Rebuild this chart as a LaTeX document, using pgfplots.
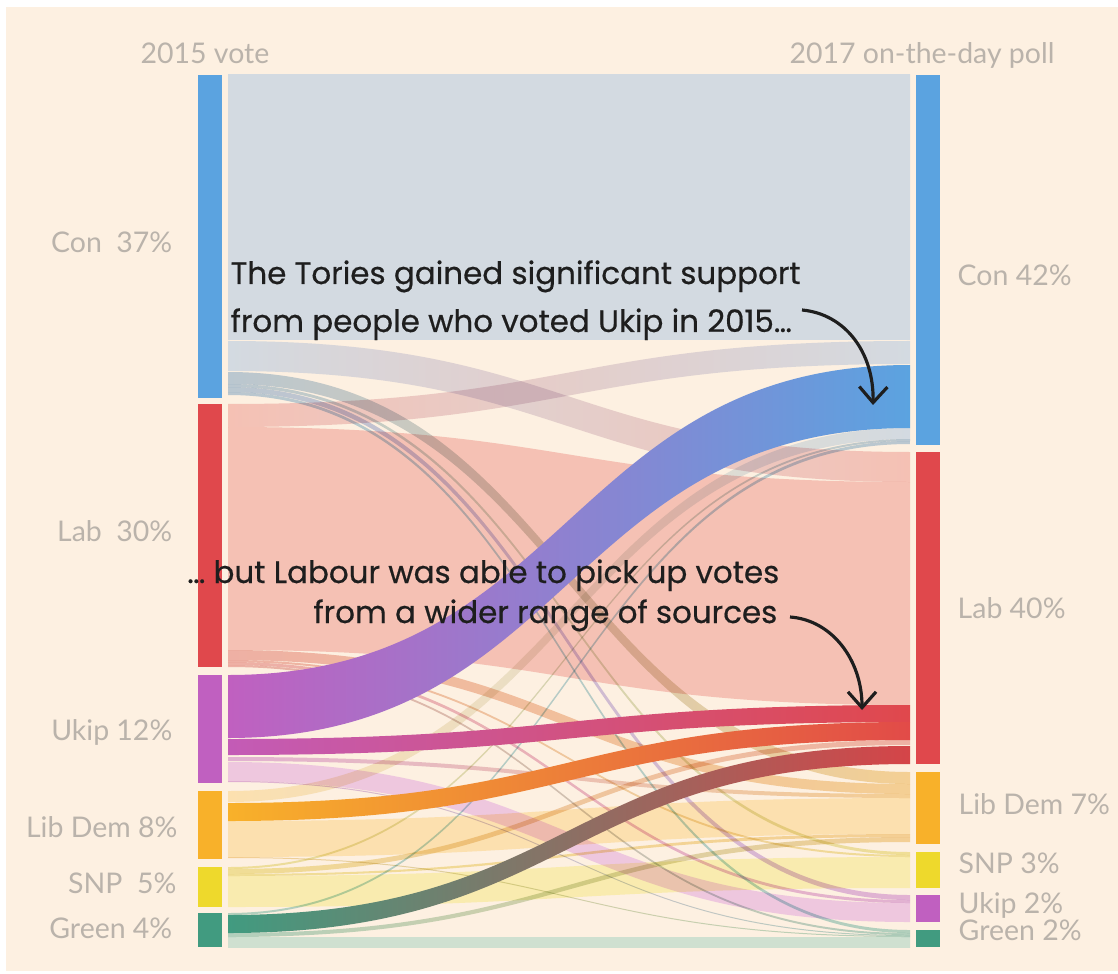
\documentclass[border=0pt]{standalone}
\usepackage{fontspec}
\usepackage{pgfplots}
\pgfplotsset{compat=1.18}
\usetikzlibrary{arrows.meta}
\setmainfont{Lato}
\newfontfamily\annfont{Poppins}[FakeBold=0.5]

\definecolor{cream}{HTML}{FDF0E1}
\definecolor{labgrey}{HTML}{BAB3AB}
\definecolor{ink}{HTML}{1E1E1E}
% party colours (bars)
\definecolor{cCon}{HTML}{5BA3E0}
\definecolor{cLab}{HTML}{E0484C}
\definecolor{cUkip}{HTML}{C060C0}
\definecolor{cLD}{HTML}{F8B12A}
\definecolor{cSNP}{HTML}{EED92C}
\definecolor{cGrn}{HTML}{419B80}
% faded flow colours (multiplied onto cream)
\definecolor{fCon}{HTML}{D5E8FF}
\definecolor{fLab}{HTML}{F7CECD}
\definecolor{fUkip}{HTML}{F0D4FC}
\definecolor{fLD}{HTML}{FEEEC7}
\definecolor{fSNP}{HTML}{FBFAC7}
\definecolor{fGrn}{HTML}{D1EEEC}
% thin flows a little stronger
\definecolor{sCon}{HTML}{BCD4EC}
\definecolor{sLab}{HTML}{F0BCBA}
\definecolor{sUkip}{HTML}{E4BEEE}
\definecolor{sLD}{HTML}{F6DCA8}
\definecolor{sSNP}{HTML}{F2ECAA}
\definecolor{sGrn}{HTML}{B4DCD6}

\tikzset{
  lab/.style={font=\fontsize{8.1}{10}\selectfont, text=labgrey, inner sep=0pt},
  ann/.style={font=\annfont\fontsize{8.8}{11}\selectfont, text=ink, inner sep=0pt},
}

% flow: colour at 2015 end, colour at 2017 end, left interval (x=228), right interval (x=910)
\newcommand{\flow}[6]{\pgfplotsextra{%
  \shade[left color=#1, right color=#2, blend mode=multiply] (axis cs:228,#3) .. controls (axis cs:569,#3) and (axis cs:569,#5) .. (axis cs:910,#5)
    -- (axis cs:910,#6) .. controls (axis cs:569,#6) and (axis cs:569,#4) .. (axis cs:228,#4) -- cycle;}}
\newcommand{\hflow}[6]{\pgfplotsextra{%
  \shade[left color=#1, right color=#2] (axis cs:228,#3) .. controls (axis cs:569,#3) and (axis cs:569,#5) .. (axis cs:910,#5)
    -- (axis cs:910,#6) .. controls (axis cs:569,#6) and (axis cs:569,#4) .. (axis cs:228,#4) -- cycle;}}
% vote bar: colour, x0, x1, y0, y1
\newcommand{\votebar}[5]{\addplot[draw=none, fill=#1] coordinates {(#2,#4) (#3,#4) (#3,#5) (#2,#5)} -- cycle;}

\begin{document}
\begin{tikzpicture}
\begin{axis}[
  width=11.18cm, height=9.73cm, scale only axis,
  xmin=0, xmax=1118, ymin=0, ymax=973, y dir=reverse,
  hide axis,
]
% background
\addplot[draw=none, fill=white] coordinates {(0,0) (1118,0) (1118,973) (0,973)} -- cycle;
\addplot[draw=none, fill=cream] coordinates {(6,7) (1118,7) (1118,971) (6,971)} -- cycle;

% Con 2015
\flow{fCon}{fCon}{75}{340}{75}{340}
\flow{fCon}{fLab}{341}{371}{452}{482}
\flow{sCon}{sLD}{372}{384}{772}{784}
\flow{sCon}{sSNP}{384}{387}{852}{855}
\flow{sCon}{sUkip}{387}{392}{895}{900}
\flow{sCon}{sGrn}{392}{395}{930}{933}
% Lab 2015
\flow{fLab}{fCon}{404}{427}{341}{364}
\flow{fLab}{fLab}{427}{650}{482}{705}
\flow{sLab}{sLD}{650}{660}{784}{794}
\flow{sLab}{sSNP}{660}{662}{855}{857}
\flow{sLab}{sUkip}{662}{665}{900}{903}
\flow{sLab}{sGrn}{665}{667}{933}{935}
% Ukip 2015
\flow{sUkip}{sLD}{757}{761}{794}{798}
\flow{fUkip}{fUkip}{762}{781}{903}{922}
\flow{sUkip}{sGrn}{781}{782}{935}{936}
% Lib Dem 2015
\flow{fLD}{fCon}{791}{802}{428}{439}
\flow{fLD}{fLD}{821}{857}{798}{834}
\flow{sLD}{sGrn}{857}{858}{936}{937}
% SNP 2015
\flow{sSNP}{sCon}{867}{869}{439}{441}
\flow{sSNP}{sLab}{869}{874}{740}{745}
\flow{sSNP}{sLD}{874}{876}{834}{837}
\flow{fSNP}{fSNP}{876}{907}{857}{888}
% Green 2015
\flow{sGrn}{sCon}{913}{915}{441}{444}
\flow{sGrn}{sLD}{933}{937}{837}{842}
\flow{fGrn}{fGrn}{937}{947}{937}{947}

% highlighted flows
\hflow{cUkip}{cCon}{675}{738}{365}{428}
\hflow{cUkip!95!red}{cLab}{739}{755}{705}{722}
\hflow{cLD}{cLab!95!orange}{803}{821}{722}{740}
\hflow{cGrn}{cLab!95!black}{915}{933}{746}{764}

% bars, 2015
\votebar{cCon}{198}{222}{75}{398}
\votebar{cLab}{198}{222}{404}{667}
\votebar{cUkip}{198}{222}{675}{783}
\votebar{cLD}{198}{222}{791}{859}
\votebar{cSNP}{198}{222}{867}{907}
\votebar{cGrn}{198}{222}{913}{947}
% bars, 2017
\votebar{cCon}{916}{940}{75}{445}
\votebar{cLab}{916}{940}{452}{764}
\votebar{cLD}{916}{940}{772}{844}
\votebar{cSNP}{916}{940}{852}{888}
\votebar{cUkip}{916}{940}{895}{922}
\votebar{cGrn}{916}{940}{930}{947}

% labels
\node[lab, anchor=base] at (axis cs:205,64) {2015 vote};
\node[lab, anchor=base] at (axis cs:922,64) {2017 on-the-day poll};
\node[lab, anchor=base east] at (axis cs:173,253) {Con~~37\%};
\node[lab, anchor=base east] at (axis cs:173,541) {Lab~~30\%};
\node[lab, anchor=base east] at (axis cs:173,740) {Ukip 12\%};
\node[lab, anchor=base east] at (axis cs:178,837) {Lib Dem 8\%};
\node[lab, anchor=base east] at (axis cs:177,893) {SNP~~5\%};
\node[lab, anchor=base east] at (axis cs:173,938) {Green 4\%};
\node[lab, anchor=base west] at (axis cs:957,286) {Con 42\%};
\node[lab, anchor=base west] at (axis cs:957,618) {Lab 40\%};
\node[lab, anchor=base west] at (axis cs:958,814) {Lib Dem 7\%};
\node[lab, anchor=base west] at (axis cs:958,873) {SNP 3\%};
\node[lab, anchor=base west] at (axis cs:958,913) {Ukip 2\%};
\node[lab, anchor=base west] at (axis cs:958,940) {Green 2\%};

% annotations
\node[ann, anchor=base west] at (axis cs:230,284) {The Tories gained significant support};
\node[ann, anchor=base west] at (axis cs:230,332) {from people who voted Ukip in 2015…};
\node[ann, anchor=base east] at (axis cs:780,583) {… but Labour was able to pick up votes};
\node[ann, anchor=base east] at (axis cs:778,623) {from a wider range of sources};
\draw[ink, line width=0.9pt, -{Straight Barb[length=4.5pt, width=8pt]}]
  (axis cs:802,310) .. controls (axis cs:845,314) and (axis cs:874,352) .. (axis cs:873,405);
\draw[ink, line width=0.9pt, -{Straight Barb[length=4.5pt, width=8pt]}]
  (axis cs:790,617) .. controls (axis cs:832,620) and (axis cs:862,660) .. (axis cs:862,710);
\end{axis}
\end{tikzpicture}
\end{document}
